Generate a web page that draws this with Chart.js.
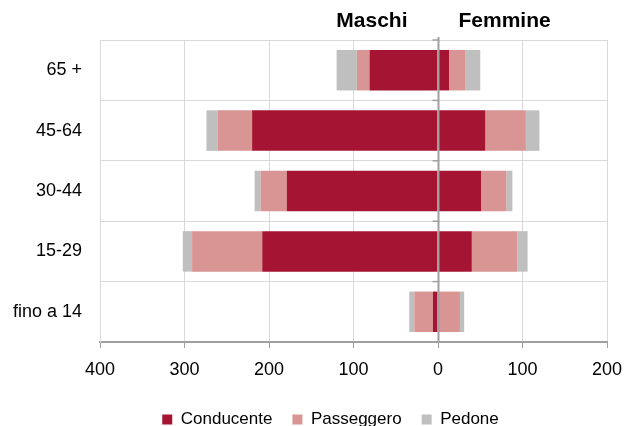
<!DOCTYPE html>
<html>
<head>
<meta charset="utf-8">
<script src="https://cdn.jsdelivr.net/npm/chart.js@4"></script>
<style>
  html, body { margin: 0; padding: 0; background: #fff; }
  #wrap { width: 624px; height: 426px; position: relative; }
</style>
</head>
<body>
<div id="wrap"><canvas id="chart"></canvas></div>
<script>
// age groups
const ageGroups = ['65 +', '45-64', '30-44', '15-29', 'fino a 14'];

// males (drawn on the left, as negative values)
const maleDriver = [81, 220, 179, 208, 6];
const malePassenger = [15, 41, 31, 83, 22];
const malePedestrian = [24, 13, 7, 11, 6];

// females
const femaleDriver = [13, 56, 51, 40, 1];
const femalePassenger = [19, 48, 30, 54, 25];
const femalePedestrian = [18, 16, 7, 12, 5];

const xTicks = [-400, -300, -200, -100, 0, 100, 200];
const seriesNames = ['Conducente', 'Passeggero', 'Pedone'];
const colors = ['#a51433', '#d99594', '#bfbfbf'];

const fontFamily = '"Liberation Sans", Arial, sans-serif';

const neg = arr => arr.map(v => -v);

// Maschi / Femmine headings + central axis
const pyramidPlugin = {
    id: 'pyramid',
    afterLayout(chart) {
        // legend sits a bit right of the canvas centre
        if (chart.legend) {
            chart.legend.left += 23;
            chart.legend.right += 23;
        }
    },
    afterDatasetsDraw(chart) {
        const ctx = chart.ctx;
        const x = chart.scales.x;
        const zero = Math.round(x.getPixelForValue(0)) + 0.5;
        const area = chart.chartArea;

        ctx.save();
        ctx.strokeStyle = '#a0a0a0';
        ctx.lineWidth = 2;
        ctx.beginPath();
        ctx.moveTo(zero, area.top - 3);
        ctx.lineTo(zero, area.bottom);
        ctx.stroke();
        // small ticks at category boundaries
        ctx.lineWidth = 1.5;
        const step = (area.bottom - area.top) / ageGroups.length;
        for (let i = 0; i <= ageGroups.length; i++) {
            const yy = area.top + i * step;
            ctx.beginPath();
            ctx.moveTo(zero - 6, yy);
            ctx.lineTo(zero, yy);
            ctx.stroke();
        }

        ctx.fillStyle = '#000';
        ctx.font = 'bold 21px ' + fontFamily;
        ctx.textBaseline = 'middle';
        ctx.textAlign = 'right';
        ctx.fillText('Maschi', zero - 31, 21);
        ctx.textAlign = 'left';
        ctx.fillText('Femmine', zero + 20, 21);
        ctx.restore();
    }
};

document.addEventListener('DOMContentLoaded', function() {
    const ctx = document.getElementById('chart').getContext('2d');

    const maleSets = [maleDriver, malePassenger, malePedestrian];
    const femaleSets = [femaleDriver, femalePassenger, femalePedestrian];

    const datasets = [];
    maleSets.forEach((data, i) => {
        datasets.push({
            label: seriesNames[i],
            data: neg(data),
            backgroundColor: colors[i],
            stack: 'pyr',
            barPercentage: 0.67,
            categoryPercentage: 1
        });
    });
    femaleSets.forEach((data, i) => {
        datasets.push({
            label: seriesNames[i] + ' F',
            data: data,
            backgroundColor: colors[i],
            stack: 'pyr',
            barPercentage: 0.67,
            categoryPercentage: 1
        });
    });

    new Chart(ctx, {
        type: 'bar',
        data: { labels: ageGroups, datasets: datasets },
        plugins: [pyramidPlugin],
        options: {
            indexAxis: 'y',
            responsive: true,
            maintainAspectRatio: false,
            animation: false,
            layout: { padding: { top: 40, left: 8, right: 17, bottom: -12 } },
            scales: {
                x: {
                    stacked: true,
                    min: -400,
                    max: 200,
                    afterBuildTicks: s => { s.ticks = xTicks.map(v => ({ value: v })); },
                    afterFit: s => {
                        s.height = 49;
                        s.paddingLeft = 0;
                        s.paddingRight = 0;
                    },
                    ticks: {
                        color: '#000',
                        font: { family: fontFamily, size: 18 },
                        padding: 11,
                        callback: v => Math.abs(v)
                    },
                    grid: {
                        color: '#d9d9d9',
                        tickColor: '#a0a0a0',
                        tickLength: 6
                    },
                    border: { color: '#a0a0a0', width: 2 }
                },
                y: {
                    stacked: true,
                    afterFit: s => { s.width = 92; },
                    ticks: {
                        color: '#000',
                        font: { family: fontFamily, size: 18 },
                        padding: 18
                    },
                    grid: {
                        color: '#d9d9d9',
                        drawTicks: false,
                        offset: true
                    },
                    border: { color: '#d9d9d9' }
                }
            },
            plugins: {
                legend: {
                    position: 'bottom',
                    labels: {
                        color: '#000',
                        font: { family: fontFamily, size: 17 },
                        boxWidth: 10,
                        boxHeight: 10,
                        padding: 20,
                        filter: item => item.datasetIndex < 3
                    }
                },
                tooltip: { enabled: false }
            }
        }
    });
});
</script>
</body>
</html>
